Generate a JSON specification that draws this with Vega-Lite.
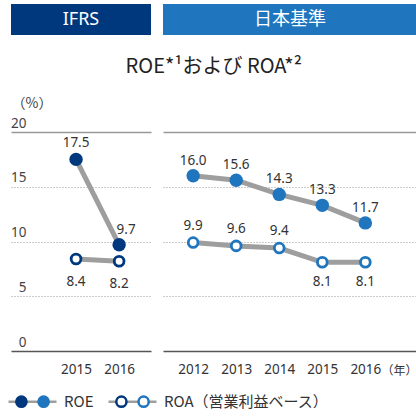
{
  "$schema": "https://vega.github.io/schema/vega-lite/v6.json",
  "padding": {"left": 10, "top": 4, "right": 0, "bottom": 0},
  "background": "white",
  "datasets": {
    "ifrs": [
      {"year": 2015, "series": "ROE", "value": 17.5},
      {"year": 2016, "series": "ROE", "value": 9.7},
      {"year": 2015, "series": "ROA（営業利益ベース）", "value": 8.4},
      {"year": 2016, "series": "ROA（営業利益ベース）", "value": 8.2}
    ],
    "jp": [
      {"year": 2012, "series": "ROE", "value": 16.0},
      {"year": 2013, "series": "ROE", "value": 15.6},
      {"year": 2014, "series": "ROE", "value": 14.3},
      {"year": 2015, "series": "ROE", "value": 13.3},
      {"year": 2016, "series": "ROE", "value": 11.7},
      {"year": 2012, "series": "ROA（営業利益ベース）", "value": 9.9},
      {"year": 2013, "series": "ROA（営業利益ベース）", "value": 9.6},
      {"year": 2014, "series": "ROA（営業利益ベース）", "value": 9.4},
      {"year": 2015, "series": "ROA（営業利益ベース）", "value": 8.1},
      {"year": 2016, "series": "ROA（営業利益ベース）", "value": 8.1}
    ]
  },
  "config": {
    "view": {"stroke": null},
    "font": "Noto Sans CJK JP",
    "text": {"font": "Noto Sans", "fontSize": 13.5, "color": "#333"},
    "axis": {"labelFont": "Noto Sans", "labelFontSize": 13.5, "labelColor": "#333", "ticks": false}
  },
  "spacing": 22,
  "vconcat": [
    {
      "spacing": 12,
      "hconcat": [
        {
          "width": 140, "height": 31,
          "view": {"fill": "#00387d", "stroke": null},
          "data": {"values": [{"label": "IFRS"}]},
          "mark": {"type": "text", "color": "white", "fontSize": 18, "font": "Noto Sans", "baseline": "middle"},
          "encoding": {"text": {"field": "label"}}
        },
        {
          "width": 254, "height": 31,
          "view": {"fill": "#1f75be", "stroke": null},
          "data": {"values": [{"label": "日本基準"}]},
          "mark": {"type": "text", "color": "white", "fontSize": 18, "font": "Noto Sans CJK JP", "baseline": "middle"},
          "encoding": {"text": {"field": "label"}}
        }
      ]
    },
    {
      "title": {"text": "ROE*¹および ROA*²", "fontSize": 20, "fontWeight": "normal", "color": "#222", "font": "Noto Sans CJK JP", "anchor": "middle", "offset": 19},
      "spacing": 12,
      "hconcat": [
        {
          "width": 140, "height": 219,
          "data": {"name": "ifrs"},
          "encoding": {
            "x": {"field": "year", "type": "quantitative", "scale": {"domain": [2013.49, 2016.74]},
              "axis": {"values": [2015, 2016], "format": "d", "title": null, "grid": false, "domainColor": "#555", "domainWidth": 1.5, "labelPadding": 11}},
            "y": {"field": "value", "type": "quantitative", "scale": {"domain": [0, 20]},
              "axis": {"values": [0, 5, 10, 15, 20], "title": "（%）", "titleAngle": 0, "titleAlign": "left", "titleBaseline": "middle", "titleX": 0, "titleY": -29, "titleFont": "Noto Sans CJK JP", "titleFontSize": 14, "titleFontWeight": "normal", "titleColor": "#444",
                "labelAlign": "right", "labelPadding": -15, "labelOffset": -5, "labelBaseline": "alphabetic", "labelColor": "#444",
                "domain": false, "grid": true,
                "gridColor": {"condition": {"test": "datum.value === 0", "value": "transparent"}, "value": "#999"},
                "gridDash": {"condition": {"test": "datum.value === 20", "value": []}, "value": [1, 2]},
                "gridWidth": {"condition": {"test": "datum.value === 20", "value": 1.5}, "value": 1}}}
          },
          "layer": [
            {"mark": {"type": "line", "color": "#9e9e9e", "strokeWidth": 5}, "encoding": {"detail": {"field": "series"}}},
            {"transform": [{"filter": "datum.series == 'ROE'"}], "mark": {"type": "point", "filled": true, "color": "#00387d", "size": 180, "opacity": 1}},
            {"transform": [{"filter": "datum.series != 'ROE'"}], "mark": {"type": "point", "filled": true, "fill": "white", "stroke": "#00387d", "strokeWidth": 2.8, "size": 95, "opacity": 1}},
            {"transform": [{"filter": "datum.series == 'ROE' && datum.year == 2015"}], "mark": {"type": "text", "baseline": "alphabetic", "dy": -12}, "encoding": {"text": {"field": "value", "format": ".1f"}}},
            {"transform": [{"filter": "datum.series == 'ROE' && datum.year == 2016"}], "mark": {"type": "text", "baseline": "alphabetic", "dy": -11, "dx": 7}, "encoding": {"text": {"field": "value", "format": ".1f"}}},
            {"transform": [{"filter": "datum.series != 'ROE'"}], "mark": {"type": "text", "baseline": "alphabetic", "dy": 27}, "encoding": {"text": {"field": "value", "format": ".1f"}}},
            {"mark": {"type": "point", "filled": true, "stroke": "#00387d", "strokeWidth": 2.5, "opacity": 0},
              "encoding": {"fill": {"field": "series", "type": "nominal", "sort": "descending", "scale": {"range": ["#00387d", "white"]},
                "legend": {"orient": "none", "legendX": 14, "legendY": 390, "direction": "horizontal", "columns": 2, "title": null, "zindex": 1,
                  "symbolType": "M-4,0M4,0M-2.7,0A0.85,0.85 0 1,0 -1,0A0.85,0.85 0 1,0 -2.7,0Z", "symbolSize": 144, "symbolStrokeColor": "#00387d", "symbolStrokeWidth": 2.5, "symbolOpacity": 1,
                  "labelOffset": 24, "columnPadding": 9, "labelLimit": 400, "labelFont": "Noto Sans CJK JP", "labelFontSize": 15, "labelOpacity": 0}}}},
            {"mark": {"type": "point", "filled": true, "color": "#9e9e9e", "opacity": 0},
              "encoding": {"shape": {"field": "series", "type": "nominal", "scale": {"domain": ["ROE", "ROA（営業利益ベース）"], "range": ["M0,-0.85M0,0.85M-4,-0.2H4V0.2H-4Z", "M0,-0.85M0,0.85M-4,-0.2H4V0.2H-4Z"]},
                "legend": {"orient": "none", "legendX": 14, "legendY": 390, "direction": "horizontal", "columns": 2, "title": null, "zindex": 0,
                  "symbolSize": 144, "symbolFillColor": "#9e9e9e", "symbolStrokeColor": "#9e9e9e", "symbolStrokeWidth": 2.5, "symbolOpacity": 1,
                  "labelOffset": 24, "columnPadding": 9, "labelLimit": 400, "labelFont": "Noto Sans CJK JP", "labelFontSize": 15, "labelColor": "#333"}}}}
          ]
        },
        {
          "width": 254, "height": 219,
          "data": {"name": "jp"},
          "encoding": {
            "x": {"field": "year", "type": "quantitative", "scale": {"domain": [2011.3, 2017.2]},
              "axis": {"values": [2012, 2013, 2014, 2015, 2016], "format": "d", "title": "（年）", "titleFont": "Noto Sans CJK JP", "titleFontSize": 12, "titleFontWeight": "normal", "titleColor": "#333", "titleAlign": "right", "titleBaseline": "middle", "titleX": 254, "titleY": 19, "grid": false, "domainColor": "#555", "domainWidth": 1.5, "labelPadding": 11}},
            "y": {"field": "value", "type": "quantitative", "scale": {"domain": [0, 20]},
              "axis": {"values": [0, 5, 10, 15, 20], "title": null, "labels": false, "domain": false, "grid": true,
                "gridColor": {"condition": {"test": "datum.value === 0", "value": "transparent"}, "value": "#999"},
                "gridDash": {"condition": {"test": "datum.value === 20", "value": []}, "value": [1, 2]},
                "gridWidth": {"condition": {"test": "datum.value === 20", "value": 1.5}, "value": 1}}}
          },
          "layer": [
            {"mark": {"type": "line", "color": "#9e9e9e", "strokeWidth": 5}, "encoding": {"detail": {"field": "series"}}},
            {"transform": [{"filter": "datum.series == 'ROE'"}], "mark": {"type": "point", "filled": true, "color": "#1f75be", "size": 180, "opacity": 1}},
            {"transform": [{"filter": "datum.series != 'ROE'"}], "mark": {"type": "point", "filled": true, "fill": "white", "stroke": "#1f75be", "strokeWidth": 2.8, "size": 95, "opacity": 1}},
            {"transform": [{"filter": "datum.series == 'ROE'"}], "mark": {"type": "text", "baseline": "alphabetic", "dy": -11}, "encoding": {"text": {"field": "value", "format": ".1f"}}},
            {"transform": [{"filter": "datum.series != 'ROE' && datum.year <= 2014"}], "mark": {"type": "text", "baseline": "alphabetic", "dy": -13}, "encoding": {"text": {"field": "value", "format": ".1f"}}},
            {"transform": [{"filter": "datum.series != 'ROE' && datum.year >= 2015"}], "mark": {"type": "text", "baseline": "alphabetic", "dy": 24}, "encoding": {"text": {"field": "value", "format": ".1f"}}},
            {"mark": {"type": "point", "filled": true, "stroke": "#1f75be", "strokeWidth": 2.5, "opacity": 0},
              "encoding": {"color": {"field": "series", "type": "nominal", "sort": "descending", "scale": {"range": ["#1f75be", "white"]},
                "legend": {"orient": "none", "legendX": 14, "legendY": 390, "direction": "horizontal", "columns": 2, "title": null, "zindex": 1,
                  "symbolType": "M-4,0M4,0M1,0A0.85,0.85 0 1,0 2.7,0A0.85,0.85 0 1,0 1,0Z", "symbolSize": 144, "symbolStrokeColor": "#1f75be", "symbolStrokeWidth": 2.5, "symbolOpacity": 1,
                  "labelOffset": 24, "columnPadding": 9, "labelLimit": 400, "labelFont": "Noto Sans CJK JP", "labelFontSize": 15, "labelOpacity": 0}}}},
            {"mark": {"type": "point", "filled": true, "color": "#9e9e9e", "opacity": 0},
              "encoding": {"shape": {"field": "series", "type": "nominal", "scale": {"domain": ["ROE", "ROA（営業利益ベース）"], "range": ["M0,-0.85M0,0.85M-4,-0.2H4V0.2H-4Z", "M0,-0.85M0,0.85M-4,-0.2H4V0.2H-4Z"]}, "legend": null}}}
          ]
        }
      ]
    }
  ]
}
